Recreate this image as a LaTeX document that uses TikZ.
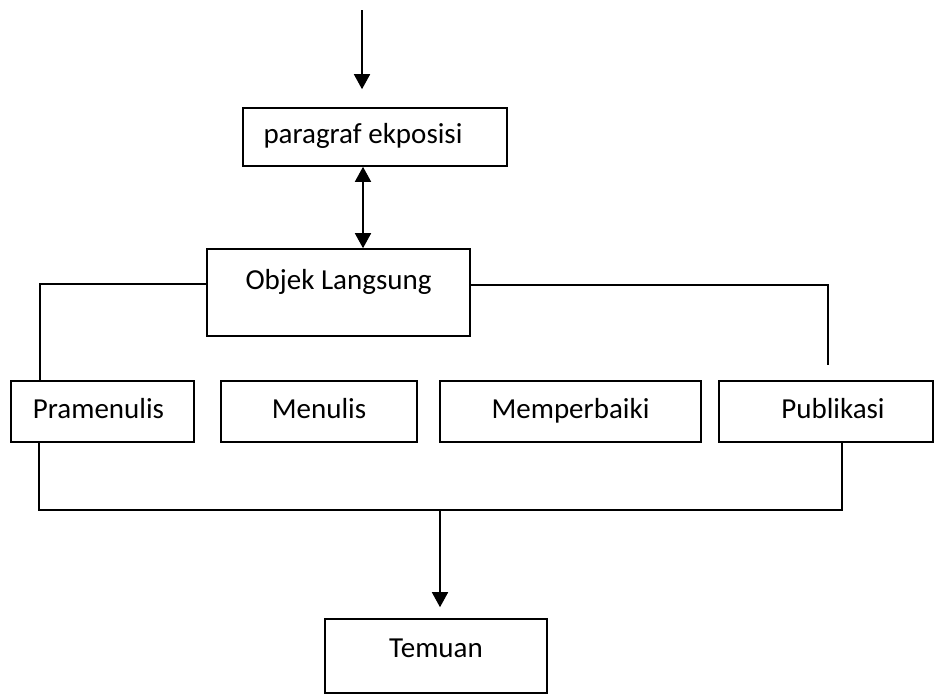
\documentclass[tikz,border=0pt]{standalone}
\usepackage{fontspec}
\setmainfont{Carlito}
\usetikzlibrary{arrows.meta}
\begin{document}
\begin{tikzpicture}[x=1pt,y=-1pt,
  box/.style={draw, line width=1.6pt, rectangle, inner sep=0pt, text height=20pt, text depth=7pt, font=\fontsize{29}{34}\selectfont},
  ln/.style={line width=1.6pt},
  arr/.style={line width=1.6pt, -{Triangle[length=15pt,width=16pt]}},
  darr/.style={line width=1.6pt, {Triangle[length=15pt,width=16pt]}-{Triangle[length=15pt,width=16pt]}}]
\useasboundingbox (0,0) rectangle (934,694);
\node[box, minimum width=264pt, minimum height=58pt] (para) at (375,137) {\hspace*{-24pt}paragraf ekposisi};
\node[box, minimum width=263pt, minimum height=87pt, text depth=27pt] (objek) at (338.5,292.5) {Objek Langsung};
\node[box, minimum width=183pt, minimum height=61pt] (pram) at (102.5,411.5) {\hspace*{-8pt}Pramenulis};
\node[box, minimum width=196pt, minimum height=61pt] (menu) at (319,411.5) {Menulis};
\node[box, minimum width=261pt, minimum height=61pt] (memp) at (570.5,411.5) {Memperbaiki};
\node[box, minimum width=214pt, minimum height=61pt] (publ) at (826,411.5) {Publikasi\hspace*{-14pt}};
\node[box, minimum width=222pt, minimum height=74pt, text depth=18pt] (temu) at (436,656) {Temuan};
\coordinate (top) at (362,10);
\coordinate (rend) at (828,365);
\coordinate (jn) at (440,510);
\draw[arr, shorten >=18pt] (top) -- (top |- para.north);
\draw[darr] (para.south -| 363,0) -- (objek.north -| 363,0);
\draw[ln] ([yshift=8.5pt]objek.west) -| (pram.north -| 40,0);
\draw[ln] ([yshift=7.5pt]objek.east) -| (rend);
\draw[ln] (pram.south -| 39,0) |- (jn) -| (publ.south -| 842,0);
\draw[arr, shorten >=11pt] (jn) -- (jn |- temu.north);
\end{tikzpicture}
\end{document}
